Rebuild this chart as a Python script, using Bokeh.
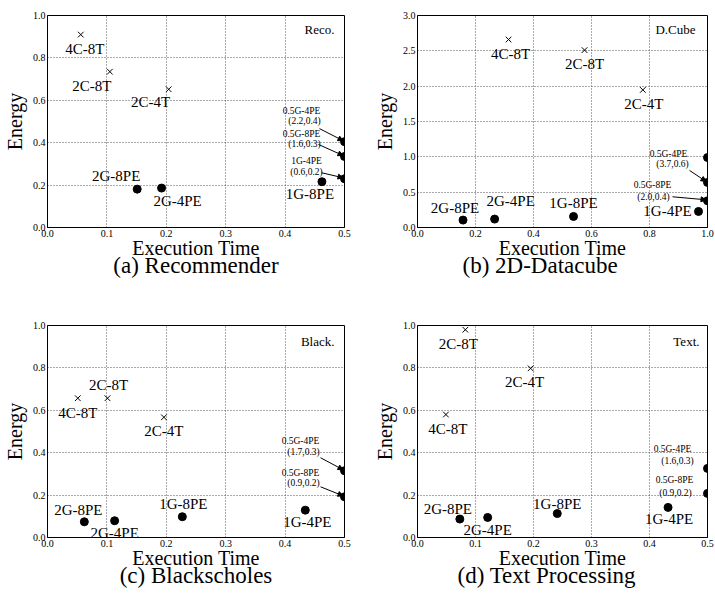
from bokeh.plotting import figure
from bokeh.layouts import column, row
from bokeh.models import FixedTicker, Title, Arrow, NormalHead, ColumnDataSource
from bokeh.core.properties import value
from bokeh.embed import file_html
from bokeh.resources import INLINE

FONT = "Liberation Serif"

# ---------------- data ----------------
# (a) Recommender
RECO_CPU_NAMES = ["4C-8T", "2C-8T", "2C-4T"]
RECO_CPU_TIME = [0.056, 0.105, 0.204]
RECO_CPU_ENERGY = [0.91, 0.735, 0.652]
RECO_GPU_NAMES = ["2G-8PE", "2G-4PE", "1G-8PE", "0.5G-4PE", "0.5G-8PE", "1G-4PE"]
RECO_GPU_TIME = [0.151, 0.192, 0.462, 2.2, 1.6, 0.6]
RECO_GPU_ENERGY = [0.181, 0.186, 0.216, 0.405, 0.335, 0.23]
RECO_X_TICKS = [0.0, 0.1, 0.2, 0.3, 0.4, 0.5]
RECO_X_LABELS = ["0.0", "0.1", "0.2", "0.3", "0.4", "0.5"]
RECO_Y_TICKS = [0.0, 0.2, 0.4, 0.6, 0.8, 1.0]
RECO_Y_LABELS = ["0.0", "0.2", "0.4", "0.6", "0.8", "1.0"]

# (b) 2D-Datacube
DCUBE_CPU_NAMES = ["4C-8T", "2C-8T", "2C-4T"]
DCUBE_CPU_TIME = [0.314, 0.576, 0.777]
DCUBE_CPU_ENERGY = [2.66, 2.51, 1.947]
DCUBE_GPU_NAMES = ["2G-8PE", "2G-4PE", "1G-8PE", "1G-4PE", "", "0.5G-4PE", "0.5G-8PE"]
DCUBE_GPU_TIME = [0.157, 0.266, 0.538, 0.969, 1.0, 3.7, 2.0]
DCUBE_GPU_ENERGY = [0.105, 0.119, 0.156, 0.227, 0.99, 0.638, 0.378]
DCUBE_X_TICKS = [0.0, 0.2, 0.4, 0.6, 0.8, 1.0]
DCUBE_X_LABELS = ["0.0", "0.2", "0.4", "0.6", "0.8", "1.0"]
DCUBE_Y_TICKS = [0.0, 0.5, 1.0, 1.5, 2.0, 2.5, 3.0]
DCUBE_Y_LABELS = ["0.0", "0.5", "1.0", "1.5", "2.0", "2.5", "3.0"]

# (c) Blackscholes
BLACK_CPU_NAMES = ["4C-8T", "2C-8T", "2C-4T"]
BLACK_CPU_TIME = [0.051, 0.101, 0.196]
BLACK_CPU_ENERGY = [0.657, 0.657, 0.567]
BLACK_GPU_NAMES = ["2G-8PE", "2G-4PE", "1G-8PE", "1G-4PE", "0.5G-4PE", "0.5G-8PE"]
BLACK_GPU_TIME = [0.062, 0.113, 0.227, 0.434, 1.7, 0.9]
BLACK_GPU_ENERGY = [0.074, 0.079, 0.098, 0.129, 0.315, 0.192]

# (d) Text Processing
TEXT_CPU_NAMES = ["2C-8T", "2C-4T", "4C-8T"]
TEXT_CPU_TIME = [0.0825, 0.195, 0.049]
TEXT_CPU_ENERGY = [0.98, 0.798, 0.58]
TEXT_GPU_NAMES = ["2G-8PE", "2G-4PE", "1G-8PE", "1G-4PE", "0.5G-4PE", "0.5G-8PE"]
TEXT_GPU_TIME = [0.073, 0.121, 0.241, 0.432, 1.6, 0.9]
TEXT_GPU_ENERGY = [0.087, 0.0945, 0.113, 0.142, 0.326, 0.208]

X_LABEL = "Execution Time"
Y_LABEL = "Energy"

# ---------------- layout / style (pixel offsets) ----------------
FRAME_H = 212

LABEL_OFFSETS = {
    "a": {"4C-8T": (4, 14), "2C-8T": (-18, 14), "2C-4T": (-18, 13),
          "2G-8PE": (-21, -13), "2G-4PE": (16, 13), "1G-8PE": (-12, 12)},
    "b": {"4C-8T": (2, 14), "2C-8T": (0, 14), "2C-4T": (1, 14),
          "2G-8PE": (-8, -12), "2G-4PE": (16, -18), "1G-8PE": (0, -13), "1G-4PE": (-31, 0)},
    "c": {"4C-8T": (0, 15), "2C-8T": (1, -13), "2C-4T": (0, 14),
          "2G-8PE": (-6, -12), "2G-4PE": (0, 12), "1G-8PE": (1, -13), "1G-4PE": (2, 12)},
    "d": {"2C-8T": (-7, 14), "2C-4T": (-6, 14), "4C-8T": (2, 14),
          "2G-8PE": (-12, -10), "2G-4PE": (0, 13), "1G-8PE": (0, -10), "1G-4PE": (1, 12)},
}
# off-scale notes: name offset, coords offset, arrow start offset (None = no arrow)
NOTE_OFFSETS = {
    "a": {"0.5G-4PE": ((-43, -31), (-40, -21), (-25, -13)),
          "0.5G-8PE": ((-43, -22), (-40, -12), (-26, -12)),
          "1G-4PE": ((-38, -18), (-38, -7), (-23, -6))},
    "b": {"0.5G-4PE": ((-39, -28), (-35, -18), (-18, -12)),
          "0.5G-8PE": ((-55, -16), (-54, -4), (-35, -4))},
    "c": {"0.5G-4PE": ((-44, -30), (-41, -19), (-24, -13)),
          "0.5G-8PE": ((-44, -24), (-41, -14), (-24, -10))},
    "d": {"0.5G-4PE": ((-35, -19), (-30, -7), None),
          "0.5G-8PE": ((-33, -13), (-32, 0), None)},
}


def make_panel(key, tag, caption, cpu, gpu, xt, xl, yt, yl, frame_w, right_border,
               bottom_border, tag_off, cap_align, cap_off):
    xmax, ymax = xt[-1], yt[-1]
    p = figure(frame_width=frame_w, frame_height=FRAME_H,
               x_range=(0, xmax), y_range=(0, ymax),
               output_backend="svg", toolbar_location=None,
               min_border_left=46, min_border_right=right_border,
               min_border_top=15, min_border_bottom=bottom_border,
               outline_line_color="black", outline_line_width=1,
               background_fill_color="white", border_fill_color="white")
    for ax, ticks, labels, lab in ((p.xaxis[0], xt, xl, X_LABEL), (p.yaxis[0], yt, yl, Y_LABEL)):
        ax.ticker = FixedTicker(ticks=ticks)
        ax.major_label_overrides = {t: s for t, s in zip(ticks, labels)}
        ax.axis_label = lab
        ax.axis_label_text_font = FONT
        ax.axis_label_text_font_size = "20px"
        ax.axis_label_text_font_style = "normal"
        ax.axis_label_text_color = "black"
        ax.major_label_text_font = FONT
        ax.major_label_text_font_size = "10px"
        ax.major_label_text_color = "black"
        ax.major_tick_in = 0
        ax.major_tick_out = 0
        ax.minor_tick_line_color = None
        ax.axis_line_color = "black"
        ax.major_label_standoff = 2
    p.xaxis.axis_label_standoff = -3
    p.yaxis.axis_label_standoff = 4
    for g, ticks in ((p.xgrid[0], xt), (p.ygrid[0], yt)):
        g.ticker = FixedTicker(ticks=ticks)
        g.grid_line_color = "#555555"
        g.grid_line_dash = "1 2"
        g.grid_line_width = 1

    cpu_names, cpu_t, cpu_e = cpu
    gpu_names, gpu_t, gpu_e = gpu
    offs = LABEL_OFFSETS[key]

    cpu_src = ColumnDataSource(dict(
        x=cpu_t, y=cpu_e, name=cpu_names,
        dx=[offs[n][0] for n in cpu_names], dy=[offs[n][1] for n in cpu_names]))
    p.scatter("x", "y", source=cpu_src, marker="x", size=8, line_color="black", line_width=1)
    p.text("x", "y", text="name", source=cpu_src, x_offset="dx", y_offset="dy",
           text_align="center", text_baseline="middle", text_font=value(FONT),
           text_font_size="15px", text_color="black")

    gx = [min(t, xmax) for t in gpu_t]
    p.scatter(gx, gpu_e, marker="circle", size=8, fill_color="black", line_color="black")

    in_names, in_x, in_y, in_dx, in_dy = [], [], [], [], []
    nt, nx, ny, ndx, ndy = [], [], [], [], []
    for n, t, xx, e in zip(gpu_names, gpu_t, gx, gpu_e):
        if not n:
            continue
        if t > xmax:
            name_off, coord_off, arr = NOTE_OFFSETS[key][n]
            for txt, o in ((n, name_off), ("(%.1f,%.1f)" % (t, e), coord_off)):
                nt.append(txt); nx.append(xx); ny.append(e); ndx.append(o[0]); ndy.append(o[1])
            if arr is not None:
                p.add_layout(Arrow(end=NormalHead(size=5, fill_color="black", line_color="black"),
                                   x_start=xx + arr[0] * xmax / frame_w,
                                   y_start=e - arr[1] * ymax / FRAME_H,
                                   x_end=xx - 1.5 * xmax / frame_w,
                                   y_end=e + 1.0 * ymax / FRAME_H,
                                   line_color="black", line_width=1))
        else:
            o = offs[n]
            in_names.append(n); in_x.append(xx); in_y.append(e); in_dx.append(o[0]); in_dy.append(o[1])
    p.text(in_x, in_y, text=in_names, x_offset=in_dx, y_offset=in_dy,
           text_align="center", text_baseline="middle", text_font=value(FONT),
           text_font_size="15px", text_color="black")
    if nt:
        p.text(nx, ny, text=nt, x_offset=ndx, y_offset=ndy,
               text_align="center", text_baseline="middle", text_font=value(FONT),
               text_font_size="9.5px", text_color="black")
    p.text([xmax], [ymax], text=[tag], x_offset=tag_off[0], y_offset=tag_off[1],
           text_align="right", text_baseline="middle", text_font=value(FONT),
           text_font_size="13px", text_color="black")
    p.add_layout(Title(text=caption, align=cap_align, offset=cap_off, text_font=FONT,
                       text_font_size="23px", text_font_style="normal",
                       vertical_align="top", text_color="black", standoff=-18), "below")
    return p


pa = make_panel("a", "Reco.", "(a) Recommender",
                (RECO_CPU_NAMES, RECO_CPU_TIME, RECO_CPU_ENERGY),
                (RECO_GPU_NAMES, RECO_GPU_TIME, RECO_GPU_ENERGY),
                RECO_X_TICKS, RECO_X_LABELS, RECO_Y_TICKS, RECO_Y_LABELS,
                297, 26, 83, (-10, 14), "center", 0)
pb = make_panel("b", "D.Cube", "(b) 2D-Datacube",
                (DCUBE_CPU_NAMES, DCUBE_CPU_TIME, DCUBE_CPU_ENERGY),
                (DCUBE_GPU_NAMES, DCUBE_GPU_TIME, DCUBE_GPU_ENERGY),
                DCUBE_X_TICKS, DCUBE_X_LABELS, DCUBE_Y_TICKS, DCUBE_Y_LABELS,
                290, 10, 83, (-12, 14), "left", 45)
pc = make_panel("c", "Black.", "(c) Blackscholes",
                (BLACK_CPU_NAMES, BLACK_CPU_TIME, BLACK_CPU_ENERGY),
                (BLACK_GPU_NAMES, BLACK_GPU_TIME, BLACK_GPU_ENERGY),
                RECO_X_TICKS, RECO_X_LABELS, RECO_Y_TICKS, RECO_Y_LABELS,
                297, 26, 67, (-10, 16), "center", 0)
pd = make_panel("d", "Text.", "(d) Text Processing",
                (TEXT_CPU_NAMES, TEXT_CPU_TIME, TEXT_CPU_ENERGY),
                (TEXT_GPU_NAMES, TEXT_GPU_TIME, TEXT_GPU_ENERGY),
                RECO_X_TICKS, RECO_X_LABELS, RECO_Y_TICKS, RECO_Y_LABELS,
                290, 10, 67, (-8, 16), "left", 40)

layout = column(row(pa, pb, spacing=0), row(pc, pd, spacing=0), spacing=0)
open("out.html", "w").write(file_html(layout, INLINE))
